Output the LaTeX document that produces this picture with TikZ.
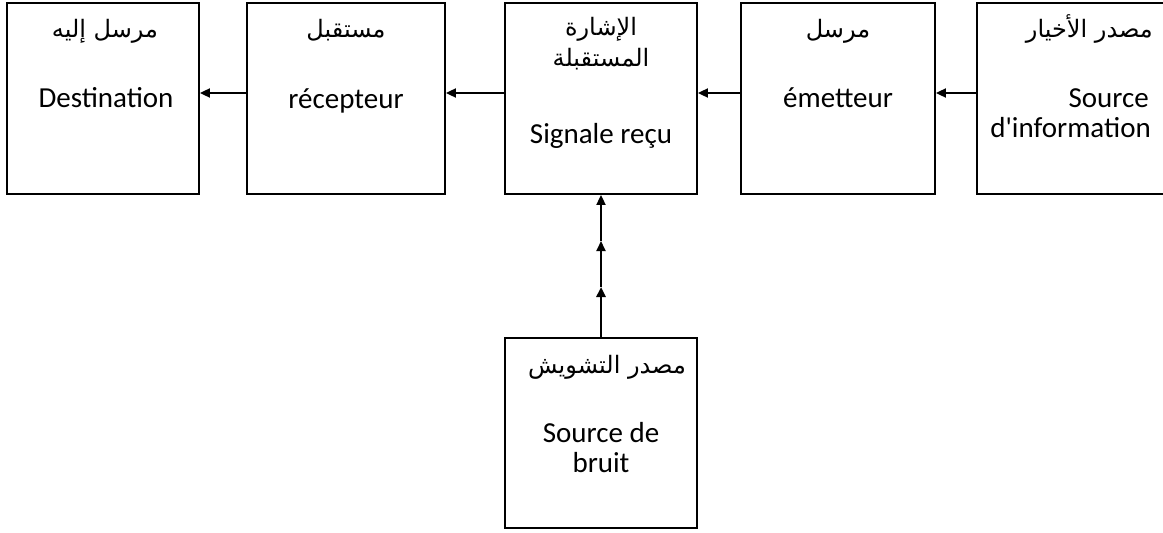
\documentclass[tikz,border=0pt]{standalone}
\usepackage{fontspec}
\setmainfont{Carlito}
\newfontfamily\arabicfont[Script=Arabic]{DejaVu Sans}
\TeXXeTstate=1
\usetikzlibrary{arrows.meta}

\tikzset{
  block/.style={draw=black, line width=1.8pt, inner sep=0pt, minimum height=191pt},
  lat/.style={inner sep=0pt, anchor=base, font=\fontsize{29}{34}\selectfont},
  ar/.style={inner sep=0pt, anchor=base, font=\arabicfont\fontsize{24}{28}\selectfont},
  flow/.style={line width=1.8pt, -{Triangle[length=10pt,width=9pt]}},
}

\begin{document}
\begin{tikzpicture}[x=1pt,y=-1pt]
  \useasboundingbox (0,0) rectangle (1163,533);

  % blocks of the chain
  \node[block, minimum width=192pt] (dest) at (103,98.5) {};
  \node[block, minimum width=198pt] (recv) at (346,98.5) {};
  \node[block, minimum width=192pt] (sig)  at (601,98.5) {};
  \node[block, minimum width=194pt] (emit) at (838,98.5) {};
  \node[block, minimum width=198pt] (src)  at (1076,98.5) {};
  \node[block, minimum width=192pt, minimum height=190pt] (noise) at (601,433) {};

  % labels (positions are baselines)
  \node[ar]  (destA) at (105,37) {\beginR مرسل إليه\endR};
  \node[lat] (destL) at (106,107) {Destination};

  \node[ar]  (recvA) at (346,37) {\beginR مستقبل\endR};
  \node[lat] (recvL) at (346,108) {récepteur};

  \node[ar]  (sigA1) at (601,35) {\beginR الإشارة\endR};
  \node[ar]  (sigA2) at (601,66) {\beginR المستقبلة\endR};
  \node[lat] (sigL)  at (601,143) {Signale reçu};

  \node[ar]  (emitA) at (838,37) {\beginR مرسل\endR};
  \node[lat] (emitL) at (838,107) {émetteur};

  \node[ar, anchor=base east]  (srcA)  at (1153,37) {\beginR مصدر الأخيار\endR};
  \node[lat, anchor=base east] (srcL1) at (1149,107) {Source};
  \node[lat, anchor=base east] (srcL2) at (1151,137) {d\textquotesingle information};

  \node[ar]  (noiseA)  at (607,373) {\beginR مصدر التشويش\endR};
  \node[lat] (noiseL1) at (601,442) {Source de};
  \node[lat] (noiseL2) at (601,472) {bruit};

  % connectors
  \coordinate (h) at (0,93);
  \draw[flow] (src.west |- h)  -- (emit.east |- h);
  \draw[flow] (emit.west |- h) -- (sig.east |- h);
  \draw[flow] (sig.west |- h)  -- (recv.east |- h);
  \draw[flow] (recv.west |- h) -- (dest.east |- h);

  \coordinate (v1) at (601,287);
  \coordinate (v2) at (601,241);
  \draw[flow, line width=2.4pt] (noise.north) -- (v1);
  \draw[flow] (v1) -- (v2);
  \draw[flow] (v2) -- (sig.south);
\end{tikzpicture}
\end{document}
